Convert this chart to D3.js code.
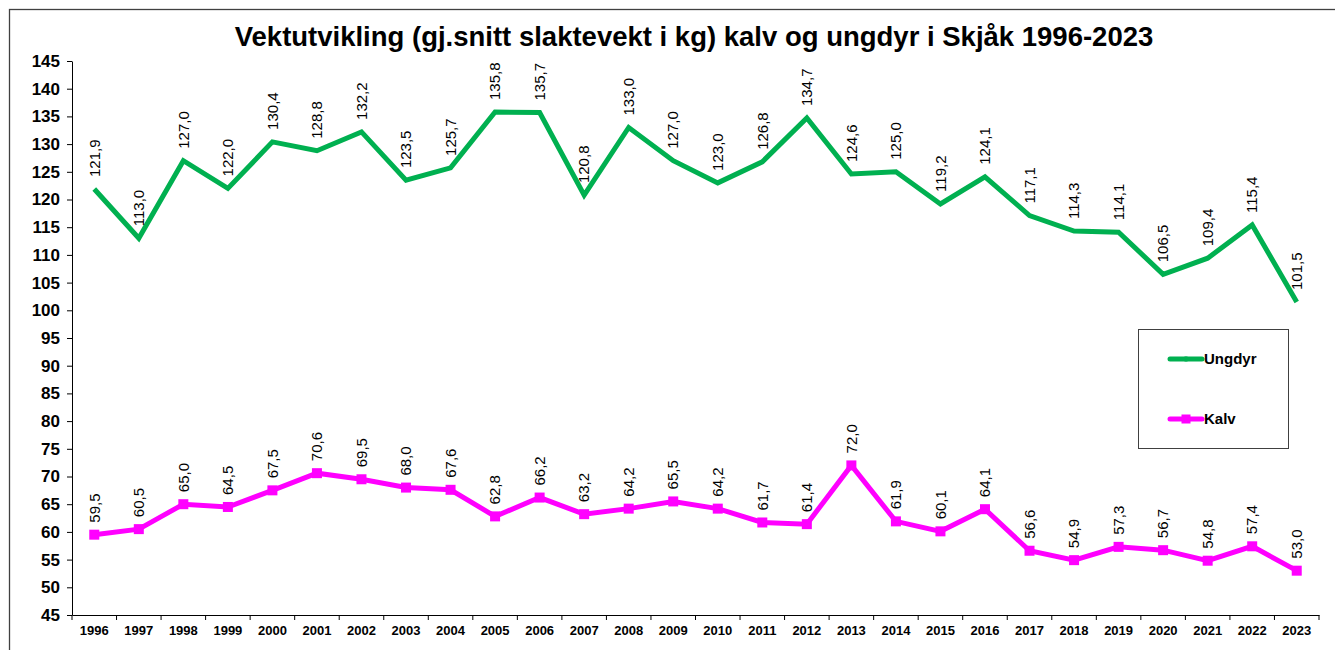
<!DOCTYPE html>
<html><head><meta charset="utf-8">
<script src="https://cdn.jsdelivr.net/npm/d3@7"></script>
<style>body{margin:0;background:#fff}svg{display:block}</style>
</head><body>
<script>
const years = [1996,1997,1998,1999,2000,2001,2002,2003,2004,2005,2006,2007,2008,2009,2010,2011,2012,2013,2014,2015,2016,2017,2018,2019,2020,2021,2022,2023];
const ungdyr = [121.9,113.0,127.0,122.0,130.4,128.8,132.2,123.5,125.7,135.8,135.7,120.8,133.0,127.0,123.0,126.8,134.7,124.6,125.0,119.2,124.1,117.1,114.3,114.1,106.5,109.4,115.4,101.5];
const kalv = [59.5,60.5,65.0,64.5,67.5,70.6,69.5,68.0,67.6,62.8,66.2,63.2,64.2,65.5,64.2,61.7,61.4,72.0,61.9,60.1,64.1,56.6,54.9,57.3,56.7,54.8,57.4,53.0];
const yTicks = d3.range(45, 146, 5);
const title = "Vektutvikling (gj.snitt slaktevekt i kg) kalv og ungdyr i Skjåk 1996-2023";

const W = 1335, H = 650;
const svg = d3.select("body").append("svg").attr("width", W).attr("height", H)
  .style("font-family", "'Liberation Sans', Arial, sans-serif");

svg.append("rect").attr("x", 9.5).attr("y", 9.5).attr("width", 1340).attr("height", 660)
  .attr("fill", "none").attr("stroke", "#404040").attr("stroke-width", 1.3);

const x0 = 72, x1 = 1319, yTop = 61, yBot = 615;
const x = d3.scaleBand().domain(years).range([x0, x1]);
const y = d3.scaleLinear().domain([45, 145]).range([yBot, yTop]);
const cx = d => x(d) + x.bandwidth() / 2;

svg.append("text").attr("x", 694).attr("y", 46).attr("text-anchor", "middle")
  .attr("font-weight", "bold").attr("font-size", 27.5).text(title);

const yAxis = svg.append("g").attr("transform", `translate(${x0},0)`)
  .call(d3.axisLeft(y).tickValues(yTicks).tickSize(5).tickSizeOuter(0).tickFormat(d3.format("d")));
yAxis.select(".domain").attr("stroke", "#000");
yAxis.selectAll(".tick line").attr("stroke", "#000");
yAxis.selectAll("text").attr("font-size", 17).attr("font-weight", "bold").attr("fill", "#000")
  .attr("font-family", "'Liberation Sans', Arial, sans-serif").attr("x", -12);

const xAxis = svg.append("g").attr("transform", `translate(0,${yBot})`)
  .call(d3.axisBottom(x).tickSize(0).tickSizeOuter(0));
xAxis.select(".domain").attr("stroke", "#000");
xAxis.selectAll("text").attr("font-size", 13).attr("font-weight", "bold").attr("fill", "#000")
  .attr("font-family", "'Liberation Sans', Arial, sans-serif").attr("y", 11);
// category boundary ticks
xAxis.selectAll(".bnd").data(years.concat(["end"])).enter().append("line")
  .attr("x1", (d, i) => x0 + i * x.step()).attr("x2", (d, i) => x0 + i * x.step())
  .attr("y1", 0).attr("y2", 5).attr("stroke", "#000");

function series(data, color, marker) {
  const line = d3.line().x((d, i) => cx(years[i])).y(d => y(d));
  svg.append("path").datum(data).attr("d", line).attr("fill", "none")
    .attr("stroke", color).attr("stroke-width", 5).attr("stroke-linejoin", "miter");
  if (marker) {
    svg.selectAll(null).data(data).enter().append("rect")
      .attr("x", (d, i) => cx(years[i]) - 5).attr("y", d => y(d) - 5)
      .attr("width", 10).attr("height", 10).attr("fill", color);
  }
  svg.selectAll(null).data(data).enter().append("text")
    .attr("transform", (d, i) => `translate(${cx(years[i])},${y(d) - 12}) rotate(-90)`)
    .attr("dy", "0.35em").attr("font-size", 15).attr("fill", "#000")
    .text(d => d.toFixed(1).replace(".", ","));
}
series(ungdyr, "#00B050", false);
series(kalv, "#FF00FF", true);

// legend
const lg = svg.append("g");
lg.append("rect").attr("x", 1138.5).attr("y", 329.5).attr("width", 150).attr("height", 119)
  .attr("fill", "#fff").attr("stroke", "#404040").attr("stroke-width", 1);
const items = [["Ungdyr", "#00B050", 359, 3], ["Kalv", "#FF00FF", 419, 9]];
items.forEach(([name, c, yy, ms]) => {
  lg.append("line").attr("x1", 1170).attr("x2", 1202).attr("y1", yy).attr("y2", yy)
    .attr("stroke", c).attr("stroke-width", 5).attr("stroke-linecap", "round");
  lg.append("rect").attr("x", 1186 - ms / 2).attr("y", yy - ms / 2 - (ms > 3 ? 0 : 1)).attr("width", ms).attr("height", ms + (ms > 3 ? 0 : 2)).attr("fill", c);
  lg.append("text").attr("x", 1204).attr("y", yy + 5).attr("font-size", 15).attr("font-weight", "bold").text(name);
});
</script>
</body></html>
